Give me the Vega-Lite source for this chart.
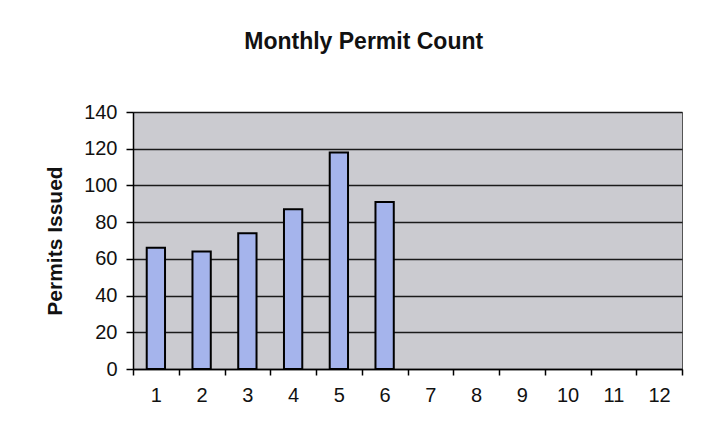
{
  "$schema": "https://vega.github.io/schema/vega-lite/v6.json",
  "width": 549,
  "height": 257,
  "autosize": {"type": "none"},
  "padding": {"left": 133, "top": 112, "right": 22, "bottom": 79},
  "background": "#ffffff",
  "title": {
    "text": "Monthly Permit Count",
    "anchor": "middle",
    "frame": "bounds",
    "offset": 48,
    "font": "Liberation Sans",
    "fontSize": 23,
    "fontWeight": "bold",
    "color": "#111111"
  },
  "data": {
    "values": [
      {"month": "1", "permits": 66},
      {"month": "2", "permits": 64},
      {"month": "3", "permits": 74},
      {"month": "4", "permits": 87},
      {"month": "5", "permits": 118},
      {"month": "6", "permits": 91}
    ]
  },
  "mark": {
    "type": "bar",
    "width": {"band": 0.4},
    "fill": "#a5b4ec",
    "stroke": "#000000",
    "strokeWidth": 2
  },
  "encoding": {
    "x": {
      "field": "month",
      "type": "ordinal",
      "sort": null,
      "scale": {"domain": ["1", "2", "3", "4", "5", "6", "7", "8", "9", "10", "11", "12"], "paddingInner": 0, "paddingOuter": 0},
      "axis": {
        "title": null,
        "labelAngle": 0,
        "tickBand": "extent",
        "tickSize": 6,
        "tickColor": "#000000",
        "tickWidth": 1.5,
        "domainColor": "#000000",
        "domainWidth": 1.5,
        "labelPadding": 10,
        "labelFont": "Liberation Sans",
        "labelFontSize": 20,
        "labelColor": "#111111",
        "grid": false
      }
    },
    "y": {
      "field": "permits",
      "type": "quantitative",
      "scale": {"domain": [0, 140], "nice": false},
      "axis": {
        "title": "Permits Issued",
        "values": [0, 20, 40, 60, 80, 100, 120, 140],
        "tickSize": 7,
        "tickColor": "#000000",
        "tickWidth": 1.5,
        "domainColor": "#000000",
        "domainWidth": 1.5,
        "labelPadding": 9,
        "labelFont": "Liberation Sans",
        "labelFontSize": 20,
        "labelColor": "#111111",
        "titleFont": "Liberation Sans",
        "titleFontSize": 21,
        "titleFontWeight": "bold",
        "titleColor": "#111111",
        "titlePadding": 18,
        "grid": true,
        "gridColor": "#1a1a1a",
        "gridWidth": 1.5
      }
    }
  },
  "config": {
    "view": {"fill": "#cbcbd0", "stroke": "#555555", "strokeWidth": 1}
  }
}
